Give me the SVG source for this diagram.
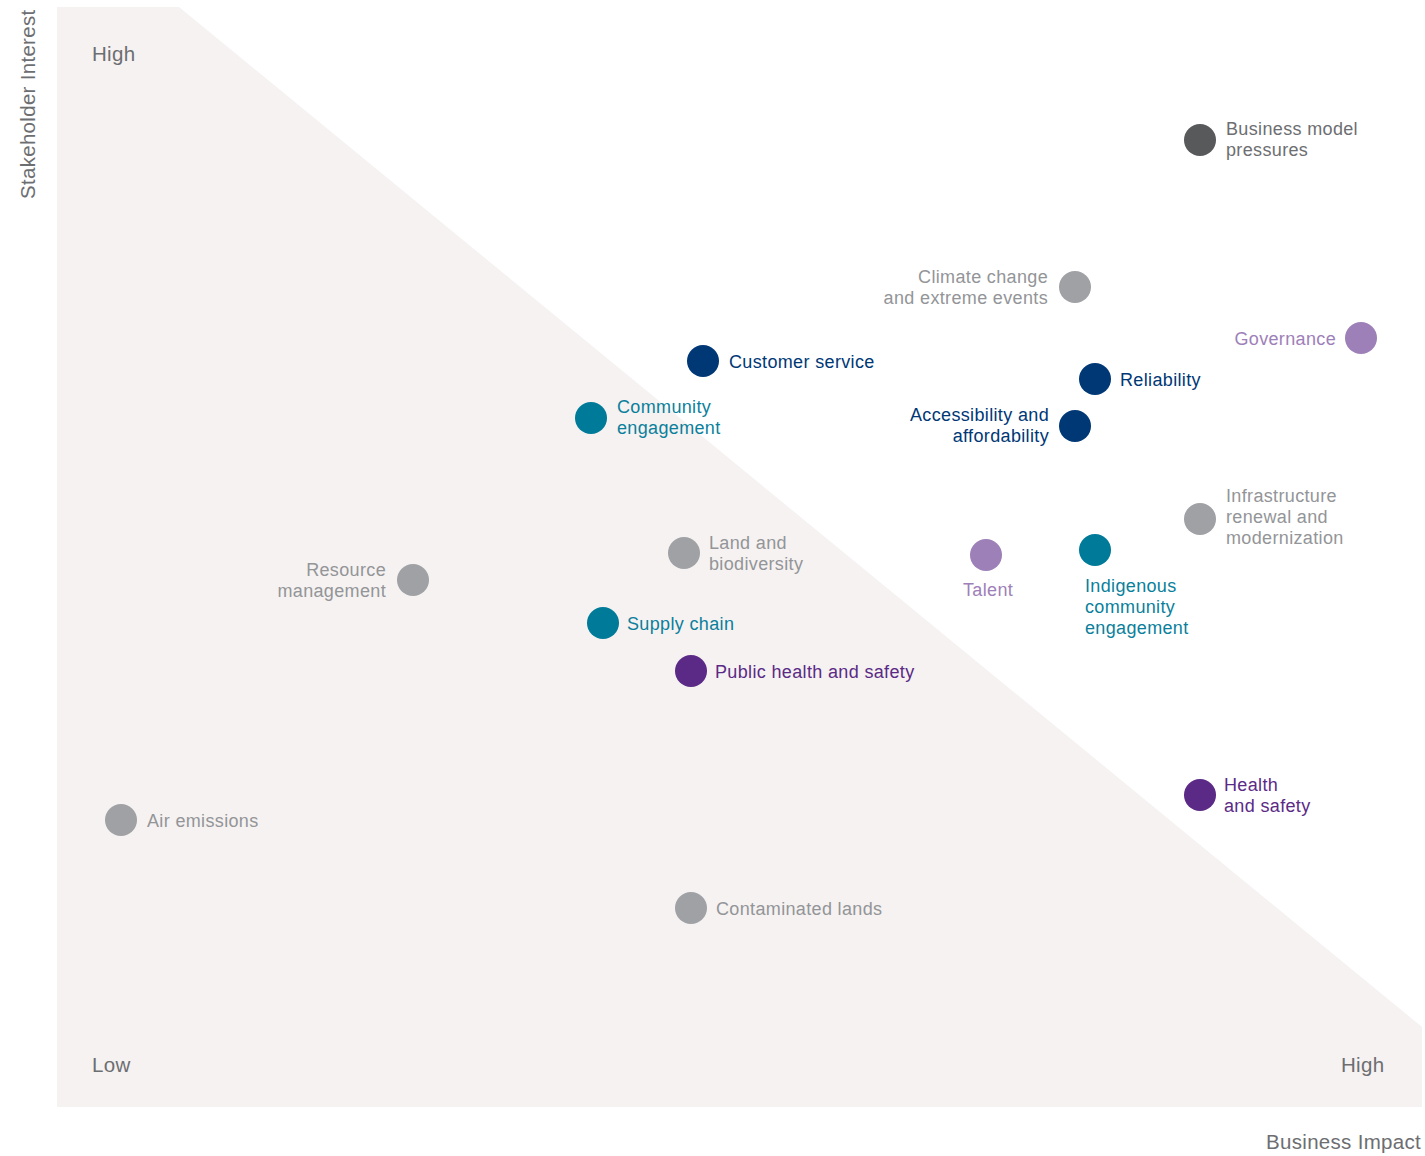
<svg xmlns="http://www.w3.org/2000/svg" width="1425" height="1156" viewBox="0 0 1425 1156">
<style>
text{font-family:"Liberation Sans",Arial,sans-serif;font-size:18px;letter-spacing:0.35px}
.ax{font-size:20.5px;fill:#6d6e71;letter-spacing:0.3px}
.dk{fill:#58595b}.gy{fill:#a0a1a5}.nv{fill:#003876}.tl{fill:#007a99}.pu{fill:#5b2a86}.lp{fill:#9e80b8}
.tdk{fill:#6d6e71}.tgy{fill:#939598}.tnv{fill:#003876}.ttl{fill:#0b7f9c}.tpu{fill:#5b2a86}.tlp{fill:#9e80b8}
.r{text-anchor:end}
</style>
<rect width="1425" height="1156" fill="#ffffff"/>
<polygon points="57,7 179,7 1422,1027 1422,1107 57,1107" fill="#f5f2f1"/>
<g id="axes">
<text class="ax" x="92" y="61">High</text>
<text class="ax" x="92" y="1072">Low</text>
<text class="ax" x="1341" y="1072">High</text>
<text class="ax" x="1421" y="1149" text-anchor="end">Business Impact</text>
<text class="ax" transform="translate(35,199) rotate(-90)">Stakeholder Interest</text>
</g>
<g id="connectors"></g>
<g id="business-model"><circle class="dk" cx="1200" cy="140" r="16"/><text class="tdk" x="1226" y="135">Business model</text><text class="tdk" x="1226" y="156">pressures</text></g>
<g id="climate"><circle class="gy" cx="1075" cy="287" r="16"/><text class="tgy r" x="1048" y="283">Climate change</text><text class="tgy r" x="1048" y="304">and extreme events</text></g>
<g id="governance"><circle class="lp" cx="1361" cy="338" r="16"/><text class="tlp r" x="1336" y="345">Governance</text></g>
<g id="reliability"><circle class="nv" cx="1095" cy="379" r="16"/><text class="tnv" x="1120" y="386">Reliability</text></g>
<g id="accessibility"><circle class="nv" cx="1075" cy="426" r="16"/><text class="tnv r" x="1049" y="421">Accessibility and</text><text class="tnv r" x="1049" y="442">affordability</text></g>
<g id="customer-service"><circle class="nv" cx="703" cy="361" r="16"/><text class="tnv" x="729" y="368">Customer service</text></g>
<g id="community"><circle class="tl" cx="591" cy="418" r="16"/><text class="ttl" x="617" y="413">Community</text><text class="ttl" x="617" y="434">engagement</text></g>
<g id="land"><circle class="gy" cx="684" cy="553" r="16"/><text class="tgy" x="709" y="549">Land and</text><text class="tgy" x="709" y="570">biodiversity</text></g>
<g id="resource"><circle class="gy" cx="413" cy="580" r="16"/><text class="tgy r" x="386" y="576">Resource</text><text class="tgy r" x="386" y="597">management</text></g>
<g id="supply-chain"><circle class="tl" cx="603" cy="623" r="16"/><text class="ttl" x="627" y="630">Supply chain</text></g>
<g id="public-health"><circle class="pu" cx="691" cy="671" r="16"/><text class="tpu" x="715" y="678">Public health and safety</text></g>
<g id="talent"><circle class="lp" cx="986" cy="555" r="16"/><text class="tlp" x="963" y="596">Talent</text></g>
<g id="indigenous"><circle class="tl" cx="1095" cy="550" r="16"/><text class="ttl" x="1085" y="592">Indigenous</text><text class="ttl" x="1085" y="613">community</text><text class="ttl" x="1085" y="634">engagement</text></g>
<g id="infrastructure"><circle class="gy" cx="1200" cy="519" r="16"/><text class="tgy" x="1226" y="502">Infrastructure</text><text class="tgy" x="1226" y="523">renewal and</text><text class="tgy" x="1226" y="544">modernization</text></g>
<g id="health-safety"><circle class="pu" cx="1200" cy="795" r="16"/><text class="tpu" x="1224" y="791">Health</text><text class="tpu" x="1224" y="812">and safety</text></g>
<g id="air"><circle class="gy" cx="121" cy="820" r="16"/><text class="tgy" x="147" y="827">Air emissions</text></g>
<g id="contaminated"><circle class="gy" cx="691" cy="908" r="16"/><text class="tgy" x="716" y="915">Contaminated lands</text></g>
</svg>
